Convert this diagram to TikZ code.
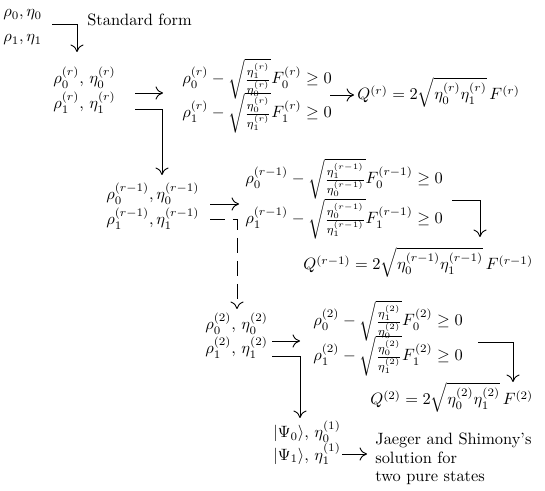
\documentclass[tikz,border=0pt]{standalone}
\usepackage{amsmath,amssymb}
\usetikzlibrary{arrows.meta}
\begin{document}
\begin{tikzpicture}[x=0.6098pt,y=-0.6098pt,
  txt/.style={anchor=base west, inner sep=0pt},
  arr/.style={line width=0.55pt, -{Computer Modern Rightarrow[length=4.5pt,width=8pt]}},
  dasharr/.style={arr, dash pattern=on 9pt off 5pt}]
\useasboundingbox (0,0) rectangle (545,491);
% ---- initial states
\node[txt] (s0a) at (3,17) {$\rho_0,\eta_0$};
\node[txt] (s0b) at (3,42) {$\rho_1,\eta_1$};
\node[txt] (sf) at (87,26) {Standard form};
% ---- level r
\node[txt] (rA) at (53,84) {$\rho_0^{(r)},\,\eta_0^{(r)}$};
\node[txt] (rB) at (53,109) {$\rho_1^{(r)},\,\eta_1^{(r)}$};
\node[txt] (rC1) at (182,84) {$\rho_0^{(r)}-\sqrt{\frac{\eta_1^{(r)}}{\eta_0^{(r)}}}F_0^{(r)}\geq 0$};
\node[txt] (rC2) at (182,118) {$\rho_1^{(r)}-\sqrt{\frac{\eta_0^{(r)}}{\eta_1^{(r)}}}F_1^{(r)}\geq 0$};
\node[txt] (rQ) at (357,100) {$Q^{(r)}=2\sqrt{\eta_0^{(r)}\eta_1^{(r)}}\,F^{(r)}$};
% ---- level r-1
\node[txt] (mA) at (106,200) {$\rho_0^{(r-1)},\eta_0^{(r-1)}$};
\node[txt] (mB) at (106,225) {$\rho_1^{(r-1)},\eta_1^{(r-1)}$};
\node[txt] (mC1) at (245,184) {$\rho_0^{(r-1)}-\sqrt{\frac{\eta_1^{(r-1)}}{\eta_0^{(r-1)}}}F_0^{(r-1)}\geq 0$};
\node[txt] (mC2) at (245,224) {$\rho_1^{(r-1)}-\sqrt{\frac{\eta_0^{(r-1)}}{\eta_1^{(r-1)}}}F_1^{(r-1)}\geq 0$};
\node[txt] (mQ) at (303,270) {$Q^{(r-1)}=2\sqrt{\eta_0^{(r-1)}\eta_1^{(r-1)}}\,F^{(r-1)}$};
% ---- level 2
\node[txt] (tA) at (205,330) {$\rho_0^{(2)},\,\eta_0^{(2)}$};
\node[txt] (tB) at (205,354) {$\rho_1^{(2)},\,\eta_1^{(2)}$};
\node[txt] (tC1) at (313,326) {$\rho_0^{(2)}-\sqrt{\frac{\eta_1^{(2)}}{\eta_0^{(2)}}}F_0^{(2)}\geq 0$};
\node[txt] (tC2) at (313,361) {$\rho_1^{(2)}-\sqrt{\frac{\eta_0^{(2)}}{\eta_1^{(2)}}}F_1^{(2)}\geq 0$};
\node[txt] (tQ) at (370,405) {$Q^{(2)}=2\sqrt{\eta_0^{(2)}\eta_1^{(2)}}\,F^{(2)}$};
% ---- level 1
\node[txt] (pA) at (273,438) {$|\Psi_0\rangle,\,\eta_0^{(1)}$};
\node[txt] (pB) at (273,460) {$|\Psi_1\rangle,\,\eta_1^{(1)}$};
\node[txt, align=left] (js) at (375,482) {Jaeger and Shimony's\\[-0.7pt]solution for\\[-0.7pt]two pure states};
% ---- connector end points
\coordinate (a0s) at (52,24);   \coordinate (a0e) at (77,52);
\coordinate (a1s) at (135,93);  \coordinate (a1e) at (163,93);
\coordinate (b1s) at (135,109); \coordinate (b1e) at (162,175);
\coordinate (q1s) at (330,95);  \coordinate (q1e) at (354,95);
\coordinate (a2s) at (210,204); \coordinate (a2e) at (239,204);
\coordinate (b2s) at (210,219); \coordinate (b2e) at (237,309);
\coordinate (q2s) at (452,200); \coordinate (q2e) at (480,237);
\coordinate (a3s) at (272,341); \coordinate (a3e) at (300,341);
\coordinate (b3s) at (272,356); \coordinate (b3e) at (300,418);
\coordinate (q3s) at (478,342); \coordinate (q3e) at (513,382);
\coordinate (a4s) at (342,454); \coordinate (a4e) at (367,454);
% ---- connectors
\draw[arr] (a0s) -| (a0e);
\draw[arr] (a1s) -- (a1e);
\draw[arr] (b1s) -| (b1e);
\draw[arr] (q1s) -- (q1e);
\draw[arr] (a2s) -- (a2e);
\draw[dasharr] (b2s) -| (b2e);
\draw[arr] (q2s) -| (q2e);
\draw[arr] (a3s) -- (a3e);
\draw[arr] (b3s) -| (b3e);
\draw[arr] (q3s) -| (q3e);
\draw[arr] (a4s) -- (a4e);
\end{tikzpicture}
\end{document}
